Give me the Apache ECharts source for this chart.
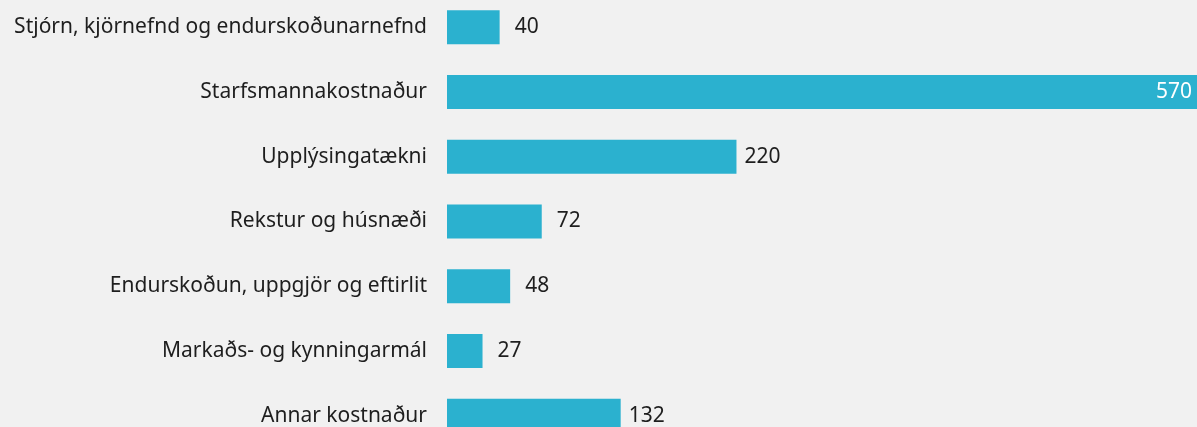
<!DOCTYPE html>
<html>
<head>
<meta charset="utf-8">
<script src="https://cdn.jsdelivr.net/npm/echarts@6/dist/echarts.min.js"></script>
<style>
  html, body { margin: 0; padding: 0; background: #f1f1f1; overflow: hidden; }
  /* chart box starts a little above the window so the bands line up with the reference */
  #chart { position: absolute; left: 0; top: -5px; width: 1197px; height: 453px; }
</style>
</head>
<body>
<div id="chart"></div>
<script>
const categories = [
  'Stjórn, kjörnefnd og endurskoðunarnefnd',
  'Starfsmannakostnaður',
  'Upplýsingatækni',
  'Rekstur og húsnæði',
  'Endurskoðun, uppgjör og eftirlit',
  'Markaðs- og kynningarmál',
  'Annar kostnaður'
];
const values = [40, 570, 220, 72, 48, 27, 132];

const FONT = "'Noto Sans', sans-serif";

// labels: the longest bar gets its value inside, white; short ones sit a bit further out
let seriesData = values.map((v) => {
  let item = { value: v };
  if (v === Math.max(...values)) {
    item.label = { position: 'insideRight', color: '#ffffff', distance: 5 };
  } else if (v < 100) {
    item.label = { distance: 15 };
  }
  return item;
});

let chart = echarts.init(document.getElementById('chart'));
chart.setOption({
  backgroundColor: '#f1f1f1',
  animation: false,
  textStyle: { fontFamily: FONT },
  grid: { left: 447, right: 0, top: 0, bottom: 0, containLabel: false, outerBoundsMode: 'none' },
  xAxis: {
    type: 'value',
    min: 0,
    max: 570,
    show: false
  },
  yAxis: {
    type: 'category',
    inverse: true,
    data: categories,
    axisLine: { show: false },
    axisTick: { show: false },
    splitLine: { show: false },
    axisLabel: { margin: 20, fontSize: 21, color: '#1e1e1e', fontFamily: FONT }
  },
  series: [{
    type: 'bar',
    data: seriesData,
    barWidth: 34,
    itemStyle: { color: '#2bb1cf' },
    label: {
      show: true,
      position: 'right',
      distance: 8,
      fontSize: 21,
      color: '#1e1e1e',
      fontFamily: FONT
    }
  }]
});
</script>
</body>
</html>
